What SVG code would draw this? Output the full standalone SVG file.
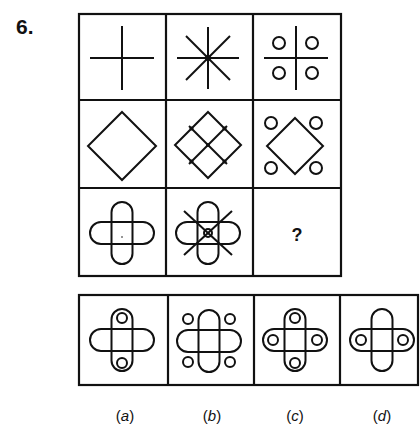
<svg xmlns="http://www.w3.org/2000/svg" width="420" height="427" viewBox="0 0 420 427">
<style>
.g{fill:none;stroke:#111;stroke-width:2.2}
.s{fill:none;stroke:#111;stroke-width:2}
.t{font-family:"Liberation Sans",Arial,sans-serif;fill:#111}
.dot{fill:#111}
</style>
<defs>
<g id="capx" class="s">
<rect x="-10.5" y="-31" width="21" height="62" rx="10.5"/>
<rect x="-32" y="-11" width="64" height="22" rx="11"/>
</g>
</defs>
<rect width="420" height="427" fill="#fff"/>
<text class="t" x="16" y="34" font-size="21" font-weight="bold">6.</text>

<g id="grid" class="g">
<rect x="79" y="14" width="262" height="262"/>
<line x1="166" y1="14" x2="166" y2="276"/>
<line x1="253" y1="14" x2="253" y2="276"/>
<line x1="79" y1="100" x2="341" y2="100"/>
<line x1="79" y1="188" x2="341" y2="188"/>
</g>

<g id="c11" class="s">
<line x1="90" y1="58" x2="154" y2="58"/>
<line x1="122" y1="26" x2="122" y2="90"/>
</g>
<g id="c12">
<g class="s">
<line x1="177" y1="58" x2="239" y2="58"/>
<line x1="208" y1="27" x2="208" y2="89"/>
<line x1="186" y1="36" x2="230" y2="80"/>
<line x1="230" y1="36" x2="186" y2="80"/>
</g>
<circle class="dot" cx="208" cy="58" r="3"/>
</g>
<g id="c13" class="s">
<line x1="264" y1="58" x2="328" y2="58"/>
<line x1="296" y1="26" x2="296" y2="90"/>
<circle cx="279" cy="43" r="6"/>
<circle cx="312" cy="43" r="6"/>
<circle cx="279" cy="73" r="6"/>
<circle cx="312" cy="73" r="6"/>
</g>

<g id="c21" class="s">
<polygon points="122,112 156,146 122,180 88,146"/>
</g>
<g id="c22">
<g class="s">
<polygon points="208,112 241,145 208,178 175,145"/>
<line x1="189" y1="126" x2="227" y2="164"/>
<line x1="227" y1="126" x2="189" y2="164"/>
</g>
<g class="dot">
<circle cx="191.5" cy="128.5" r="2"/>
<circle cx="224.5" cy="128.5" r="2"/>
<circle cx="191.5" cy="161.5" r="2"/>
<circle cx="224.5" cy="161.5" r="2"/>
<circle cx="208" cy="145" r="2"/>
</g>
</g>
<g id="c23" class="s">
<polygon points="295,118 323,146 295,174 267,146"/>
<circle cx="271" cy="123" r="6"/>
<circle cx="316" cy="123" r="6"/>
<circle cx="271" cy="168" r="6"/>
<circle cx="316" cy="168" r="6"/>
</g>

<g id="c31">
<use href="#capx" x="122" y="233"/>
<circle class="dot" cx="122" cy="237" r="0.8"/>
</g>
<g id="c32">
<use href="#capx" x="208" y="233"/>
<g class="s">
<line x1="184" y1="211" x2="232" y2="255"/>
<line x1="232" y1="211" x2="184" y2="255"/>
<circle cx="208" cy="233" r="4"/>
</g>
</g>
<g id="c33">
<text class="t" x="297" y="241" font-size="18" font-weight="bold" text-anchor="middle">?</text>
</g>

<g id="options" class="g">
<rect x="79" y="295" width="339" height="90"/>
<line x1="168" y1="295" x2="168" y2="385"/>
<line x1="254" y1="295" x2="254" y2="385"/>
<line x1="340" y1="295" x2="340" y2="385"/>
</g>

<g id="oa">
<use href="#capx" x="122" y="340"/>
<g class="s" stroke-width="2.4">
<circle cx="122" cy="318" r="5"/>
<circle cx="122" cy="363" r="5"/>
</g>
</g>
<g id="ob">
<use href="#capx" x="209" y="341"/>
<g class="s">
<circle cx="188" cy="319" r="5"/>
<circle cx="230" cy="319" r="5"/>
<circle cx="188" cy="362" r="5"/>
<circle cx="230" cy="362" r="5"/>
</g>
</g>
<g id="oc">
<use href="#capx" x="295" y="340"/>
<g class="s" stroke-width="2.4">
<circle cx="295" cy="318" r="5"/>
<circle cx="295" cy="363" r="5"/>
<circle cx="273" cy="340" r="5"/>
<circle cx="317" cy="340" r="5"/>
</g>
</g>
<g id="od">
<use href="#capx" x="382" y="340"/>
<g class="s" stroke-width="2.4">
<circle cx="361" cy="340" r="5"/>
<circle cx="403" cy="340" r="5"/>
</g>
</g>

<g id="labels" class="t" font-size="15" text-anchor="middle">
<text x="125" y="421">(<tspan font-style="italic">a</tspan>)</text>
<text x="212" y="421">(<tspan font-style="italic">b</tspan>)</text>
<text x="295" y="421">(<tspan font-style="italic">c</tspan>)</text>
<text x="382" y="421">(<tspan font-style="italic">d</tspan>)</text>
</g>
</svg>
